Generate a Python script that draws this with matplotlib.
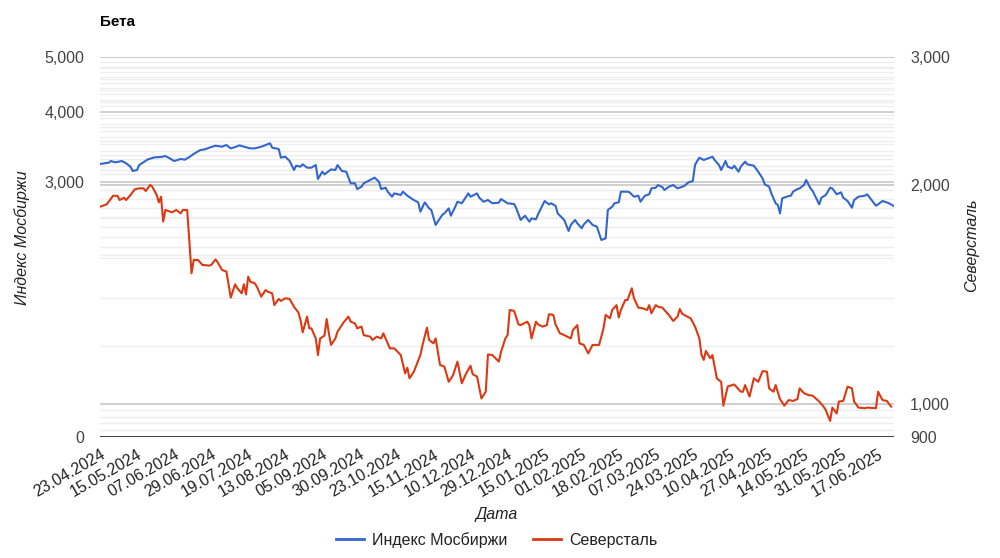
import matplotlib
matplotlib.use("Agg")
import matplotlib.pyplot as plt
from matplotlib.lines import Line2D
from matplotlib.ticker import FixedLocator, NullLocator

plt.rcParams['font.family'] = ['Liberation Sans', 'DejaVu Sans']

# x = trading-day index, tick label every 17 points
date_labels = ["23.04.2024", "15.05.2024", "07.06.2024", "29.06.2024", "19.07.2024",
               "13.08.2024", "05.09.2024", "30.09.2024", "23.10.2024", "15.11.2024",
               "10.12.2024", "29.12.2024", "15.01.2025", "01.02.2025", "18.02.2025",
               "07.03.2025", "24.03.2025", "10.04.2025", "27.04.2025", "14.05.2025",
               "31.05.2025", "17.06.2025"]
tick_step = 17

# Индекс Мосбиржи (left axis)
moex_idx = [0, 4, 5, 7, 10, 12, 14, 15, 17, 18, 22, 25, 28, 30, 32, 34, 37, 39, 41, 43,
            46, 48, 51, 53, 56, 58, 60, 62, 64, 66, 69, 71, 74, 76, 78, 79, 82, 83, 85, 87,
            89, 90, 92, 93, 95, 97, 99, 100, 102, 103, 105, 106, 108, 109, 111, 113, 115, 117, 118, 120,
            121, 124, 126, 128, 129, 131, 132, 134, 135, 138, 139, 141, 144, 146, 147, 149, 151, 152, 154, 155,
            157, 158, 160, 161, 163, 164, 166, 167, 169, 170, 173, 174, 176, 178, 180, 183,
            184, 187, 190, 191, 193, 195, 197, 198, 200, 201, 204, 206, 207, 209, 210, 213, 215, 216, 218, 219,
            221, 222, 224, 226, 228, 230, 232, 233, 235, 236, 238, 239, 242, 243, 245, 247, 248, 250, 252, 253,
            255, 256, 258, 259, 261, 263, 265, 268, 270, 272, 273, 274, 275, 277, 279, 281, 282, 284, 285, 287,
            288, 290, 291, 293, 294, 296, 297, 300, 302, 304, 305, 307, 308, 310, 311, 312, 313, 315, 317, 318,
            320, 321, 323, 324, 326, 327, 330, 331, 333, 335, 336, 338, 340, 341, 343, 345, 346, 348, 351, 352,
            354, 356, 357, 359, 360, 362, 364]
moex_vals = [3229, 3247, 3269, 3251, 3269, 3238, 3194, 3138, 3151, 3216, 3291, 3318, 3323, 3336, 3305, 3269, 3296, 3287, 3323, 3364,
             3419, 3428, 3461, 3480, 3466, 3490, 3442, 3461, 3485, 3466, 3442, 3442, 3466, 3490, 3514, 3452, 3433, 3314, 3327, 3269,
             3151, 3207, 3194, 3225, 3181, 3181, 3216, 3037, 3129, 3095, 3138, 3159, 3151, 3216, 3138, 3129, 2984, 2984, 2915, 2943,
             2984, 3025, 3054, 3004, 2915, 2931, 2884, 2825, 2864, 2845, 2884, 2837, 2787, 2761, 2657, 2761, 2694, 2676, 2517, 2551,
             2622, 2639, 2694, 2614, 2712, 2768, 2750, 2787, 2864, 2825, 2864, 2814, 2768, 2787, 2750, 2757,
             2799, 2750, 2742, 2694, 2569, 2614, 2551, 2586, 2576, 2629, 2776, 2738, 2750, 2723, 2639, 2569, 2456, 2517, 2569, 2534,
             2483, 2523, 2569, 2517, 2500, 2367, 2383, 2676, 2712, 2750, 2761, 2884, 2884, 2876, 2825, 2837, 2768, 2837, 2853, 2923,
             2931, 2963, 2939, 2903, 2943, 2963, 2923, 2951, 2996, 3012, 3216, 3269, 3314, 3282, 3305, 3327, 3282, 3216, 3151, 3269,
             3194, 3172, 3207, 3129, 3194, 3260, 3225, 3207, 3129, 3045, 2972, 2943, 2864, 2750, 2731, 2639, 2806, 2825, 2837, 2884,
             2915, 2923, 2963, 3025, 2923, 2892, 2738, 2814, 2845, 2931, 2923, 2853, 2876, 2814, 2776, 2701, 2787, 2825, 2837, 2853,
             2787, 2723, 2738, 2776, 2768, 2750, 2723]

# Северсталь (right axis)
chmf_idx = [0, 3, 4, 6, 8, 9, 11, 12, 14, 16, 18, 20, 21, 23, 24, 26, 27, 28, 29, 30,
            33, 35, 37, 38, 40, 41, 42, 43, 45, 47, 48, 50, 51, 53, 54, 56, 58, 60, 62, 63,
            65, 66, 67, 68, 69, 71, 72, 74, 76, 77, 79, 80, 82, 83, 85, 87, 89, 91, 92, 93,
            95, 96, 97, 99, 100, 101, 103, 104, 105, 106, 108, 109, 111, 112, 114, 115, 117, 118, 120, 121,
            124, 125, 127, 129, 130, 131, 133, 135, 138, 140, 141, 142, 144, 147, 148, 150, 151, 153, 154, 156,
            158, 160, 162, 164, 166, 168, 170, 171, 173, 175, 177, 178, 180, 183,
            184, 186, 187, 188, 190, 192, 193, 196, 197, 198, 200, 201, 203, 205, 206, 208, 209, 211, 213, 216,
            217, 219, 220, 222, 224, 226, 227, 229, 231, 232, 234, 235, 237, 238, 239, 241, 242, 244, 245, 247,
            249, 251, 252, 253, 255, 256, 258, 261, 263, 265, 266, 267, 268, 271, 273, 275, 276, 277, 278, 280,
            281, 283, 285, 286, 288, 290, 291, 294, 295, 296, 298, 300, 302, 304, 306, 307, 309, 310, 312, 314,
            316, 318, 320, 321, 323, 325, 327, 330, 332, 333, 335, 336, 338, 339, 341, 343, 345, 346, 348, 351,
            352, 356, 357, 359, 361, 363]
chmf_vals = [1867, 1881, 1897, 1933, 1933, 1907, 1921, 1907, 1938, 1973, 1979, 1979, 1962, 2000, 1989, 1938, 1893, 1927, 1781, 1848,
             1834, 1848, 1828, 1848, 1848, 1671, 1512, 1577, 1577, 1552, 1552, 1549, 1552, 1580, 1565, 1528, 1520, 1400, 1460, 1442,
             1419, 1460, 1414, 1496, 1472, 1465, 1449, 1404, 1434, 1426, 1419, 1367, 1394, 1385, 1397, 1394, 1360, 1336, 1304, 1254,
             1318, 1270, 1270, 1230, 1167, 1230, 1241, 1308, 1250, 1205, 1230, 1257, 1283, 1297, 1318, 1297, 1290, 1270, 1277, 1243,
             1237, 1224, 1237, 1230, 1250, 1230, 1192, 1192, 1167, 1101, 1121, 1084, 1107, 1167, 1205, 1273, 1224, 1211, 1230, 1131,
             1125, 1072, 1095, 1143, 1067, 1101, 1128, 1098, 1090, 1017, 1039, 1169, 1167, 1143,
             1179, 1230, 1243, 1346, 1342, 1286, 1283, 1297, 1283, 1230, 1297, 1286, 1277, 1283, 1328, 1325, 1286, 1250, 1243, 1230,
             1263, 1283, 1211, 1205, 1173, 1205, 1205, 1205, 1270, 1325, 1311, 1346, 1367, 1314, 1346, 1389, 1389, 1442, 1397, 1356,
             1353, 1346, 1367, 1332, 1367, 1360, 1356, 1325, 1300, 1318, 1350, 1332, 1325, 1311, 1277, 1230, 1167, 1149, 1182, 1155,
             1167, 1084, 1072, 994, 1056, 1061, 1063, 1039, 1039, 1061, 1023, 1084, 1072, 1109, 1107, 1050, 1039, 1061, 1015, 994,
             1012, 1009, 1015, 1050, 1034, 1028, 1026, 1007, 991, 980, 947, 988, 970, 1007, 1009, 1056, 1050, 1007, 988, 986,
             988, 986, 1039, 1012, 1009, 991]

left_ticks = [1058, 3000, 4000, 5000]
left_tick_labels = ["0", "3,000", "4,000", "5,000"]
right_ticks = [900, 1000, 2000, 3000]
right_tick_labels = ["900", "1,000", "2,000", "3,000"]

left_minor = [v for v in range(2200, 5000, 100) if v % 1000]
right_minor = list(range(920, 1000, 20)) + list(range(1200, 2000, 200)) + list(range(2100, 3000, 100))

fig = plt.figure(figsize=(10, 5.58), dpi=100)
rect = [0.1, 0.2168, 0.794, 0.681]
ax = fig.add_axes(rect)
axg = ax.twinx()   # right-scale gridlines, drawn behind
axr = ax.twinx()   # right-scale series and labels

axg.set_zorder(0)
ax.set_zorder(1)
axr.set_zorder(2)
ax.patch.set_visible(False)
axr.patch.set_visible(False)

for a in (ax, axg, axr):
    for s in a.spines.values():
        s.set_visible(False)

ax.set_yscale('log')
ax.set_ylim(left_ticks[0], 5000)
axg.set_yscale('log')
axg.set_ylim(900, 3000)
axr.set_yscale('log')
axr.set_ylim(900, 3000)
ax.set_xlim(0, 364.3)

for v in right_minor:
    axg.axhline(v, color='#eeeeee', lw=1, zorder=0)
for v in right_ticks[1:]:
    axg.axhline(v, color='#cccccc', lw=1.3, zorder=0)
for v in left_minor:
    ax.axhline(v, color='#eeeeee', lw=1, zorder=0)
for v in left_ticks[1:]:
    ax.axhline(v, color='#cccccc', lw=1.3, zorder=0)
ax.axhline(left_ticks[0], color='#333333', lw=1.3, zorder=1)

axg.yaxis.set_major_locator(NullLocator())
axg.yaxis.set_minor_locator(NullLocator())

ax.plot(moex_idx, moex_vals, color='#3366cc', lw=1.5, zorder=3)
axr.plot(chmf_idx, chmf_vals, color='#dc3912', lw=1.5, zorder=3)

ax.yaxis.set_major_locator(FixedLocator(left_ticks))
ax.yaxis.set_minor_locator(NullLocator())
ax.set_yticklabels(left_tick_labels)
axr.yaxis.set_major_locator(FixedLocator(right_ticks))
axr.yaxis.set_minor_locator(NullLocator())
axr.set_yticklabels(right_tick_labels)

ax.set_xticks([i * tick_step for i in range(len(date_labels))])
ax.set_xticklabels(date_labels, rotation=30, ha='right', va='top', rotation_mode='anchor')

ax.tick_params(axis='y', length=0, pad=11, labelsize=11.5, labelcolor='#444444')
axr.tick_params(axis='y', length=0, pad=11.5, labelsize=11.5, labelcolor='#444444')
ax.tick_params(axis='x', length=0, pad=7, labelsize=11.5, labelcolor='#222222')

fig.text(0.1, 1 - 22 / 558, "Бета", fontsize=11, fontweight='bold', va='center', color='#000000')
fig.text(0.022, 1 - 238 / 558, "Индекс Мосбиржи", rotation=90, style='italic',
         fontsize=11.5, ha='center', va='center', color='#222222')
fig.text(0.972, 1 - 245 / 558, "Северсталь", rotation=90, style='italic',
         fontsize=11.5, ha='center', va='center', color='#222222')
fig.text(0.497, 1 - 515 / 558, "Дата", style='italic', fontsize=11.5,
         ha='center', va='center', color='#222222')

handles = [Line2D([], [], color='#3366cc', lw=2), Line2D([], [], color='#dc3912', lw=2)]
fig.legend(handles, ["Индекс Мосбиржи", "Северсталь"], loc='center', bbox_to_anchor=(0.497, 1 - 540 / 558),
           ncol=2, frameon=False, fontsize=11.5, handlelength=1.75, handletextpad=0.5,
           columnspacing=1.6, labelcolor='#222222')

fig.savefig("out.png", dpi=100)
